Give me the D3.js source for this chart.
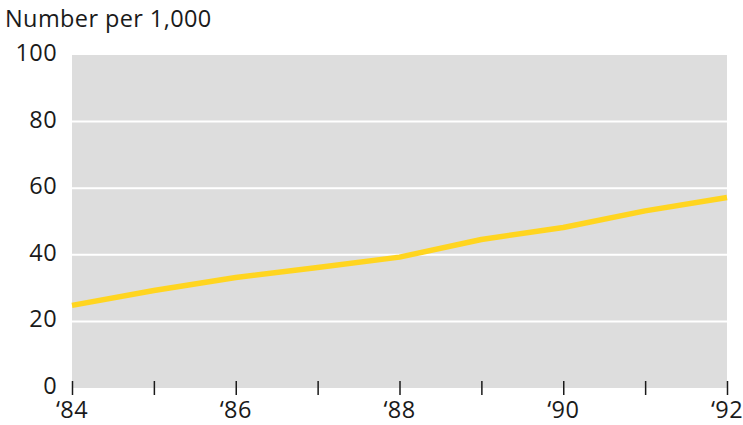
<!DOCTYPE html>
<html>
<head>
<meta charset="utf-8">
<script src="https://cdn.jsdelivr.net/npm/d3@7"></script>
<style>
  html, body { margin: 0; padding: 0; background: #ffffff; }
  svg { display: block; }
  text { font-family: "Open Sans", "Noto Sans", sans-serif; fill: #1a1a1a; letter-spacing: 0.4px; }
</style>
</head>
<body>
<svg id="chart" width="743" height="425"></svg>
<script>
// Rate per 1,000, 1984–1992
const years = [1984, 1985, 1986, 1987, 1988, 1989, 1990, 1991, 1992];
const rate = [24.8, 29.3, 33.2, 36.2, 39.3, 44.6, 48.2, 53.2, 57.2];
const yTicks = [0, 20, 40, 60, 80, 100];
const xLabelYears = [1984, 1986, 1988, 1990, 1992];
const yTitle = "Number per 1,000";

const svg = d3.select("#chart");
const plotLeft = 72, plotRight = 727, plotTop = 55, plotBottom = 388;
const fontSize = 23.5;

const x = d3.scaleLinear().domain([1984, 1992]).range([plotLeft, plotRight]);
const y = d3.scaleLinear().domain([0, 100]).range([plotBottom, plotTop]);

// plot background
svg.append("rect")
  .attr("x", plotLeft).attr("y", plotTop)
  .attr("width", plotRight - plotLeft).attr("height", plotBottom - plotTop)
  .attr("fill", "#dddddd");

// horizontal gridlines
svg.append("g").selectAll("line")
  .data(yTicks.filter(d => d > 0 && d < 100))
  .join("line")
  .attr("x1", plotLeft).attr("x2", plotRight)
  .attr("y1", d => y(d)).attr("y2", d => y(d))
  .attr("stroke", "#ffffff").attr("stroke-width", 2);

// y-axis labels
svg.append("g").selectAll("text")
  .data(yTicks)
  .join("text")
  .attr("x", 57)
  .attr("y", d => y(d) + 6)
  .attr("text-anchor", "end")
  .attr("font-size", fontSize)
  .text(d => d);

// y-axis title
svg.append("text")
  .attr("x", 5).attr("y", 27)
  .attr("font-size", fontSize)
  .text(yTitle);

// x-axis ticks, one per year, straddling the baseline
const xAxis = d3.axisBottom(x)
  .tickValues(years)
  .tickSize(14)
  .tickFormat("");
const gx = svg.append("g")
  .attr("transform", `translate(0,${plotBottom - 7})`)
  .call(xAxis);
gx.select(".domain").remove();
gx.selectAll(".tick line").attr("stroke", "#1a1a1a").attr("stroke-width", 1.5);

// x-axis labels
svg.append("g").selectAll("text")
  .data(xLabelYears)
  .join("text")
  .attr("x", d => x(d))
  .attr("y", 418)
  .attr("text-anchor", "middle")
  .attr("font-size", fontSize)
  .text(d => "\u2018" + String(d).slice(2));

// data line
const line = d3.line()
  .x((d, i) => x(years[i]))
  .y(d => y(d));
svg.append("path")
  .datum(rate)
  .attr("d", line)
  .attr("fill", "none")
  .attr("stroke", "#ffd520")
  .attr("stroke-width", 5.5)
  .attr("stroke-linejoin", "round");
</script>
</body>
</html>
